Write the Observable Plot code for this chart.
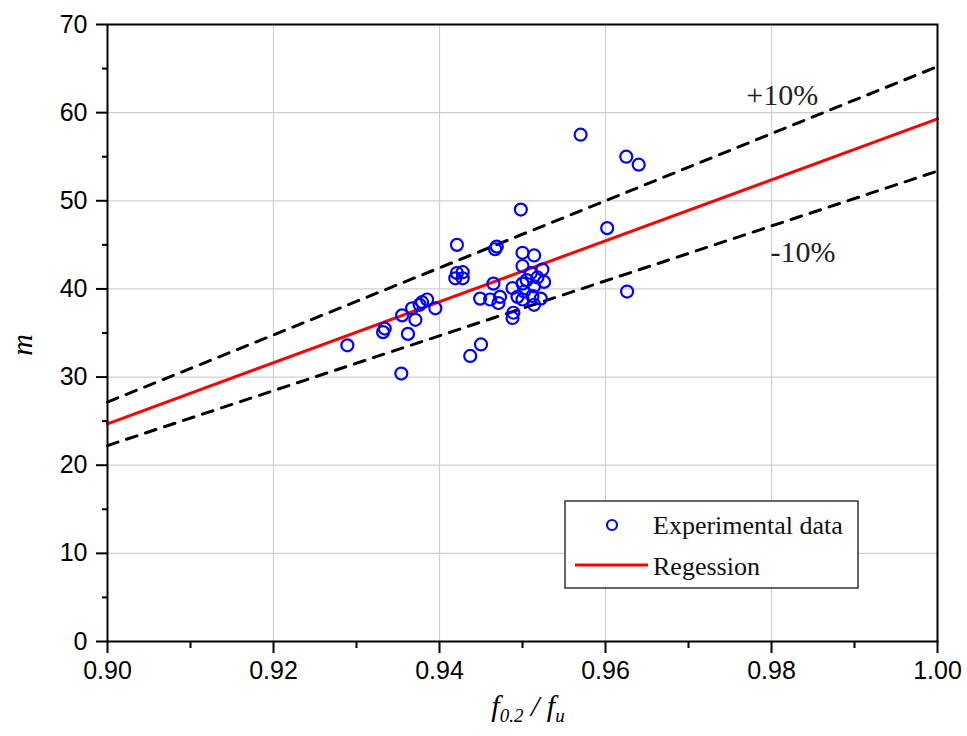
<!DOCTYPE html>
<html>
<head>
<meta charset="utf-8">
<script src="https://cdn.jsdelivr.net/npm/d3@7"></script>
<script src="https://cdn.jsdelivr.net/npm/@observablehq/plot@0.6"></script>
<style>
  html, body { margin: 0; padding: 0; background: #fff; }
  #chart svg { display: block; }
</style>
</head>
<body>
<div id="chart"></div>
<script>
// Measured yield ratio f0.2/fu and exponent m for each specimen
const ratio = [
  0.9289, 0.9332, 0.9334, 0.9354, 0.9355, 0.9362, 0.9367, 0.9371, 0.9376, 0.9379,
  0.9385, 0.9395, 0.9419, 0.9421, 0.9421, 0.9428, 0.9428, 0.9437, 0.9449, 0.9450,
  0.9461, 0.9465, 0.9467, 0.9469, 0.9471, 0.9473, 0.9488, 0.9489, 0.9488, 0.9494,
  0.9498, 0.9500, 0.9500, 0.9500, 0.9500, 0.9502, 0.9505, 0.9510, 0.9512, 0.9514,
  0.9514, 0.9514, 0.9518, 0.9522, 0.9524, 0.9526, 0.9570, 0.9602, 0.9625, 0.9626,
  0.9640
];
const mValue = [
  33.6, 35.1, 35.5, 30.4, 37.0, 34.9, 37.8, 36.5, 38.2, 38.5,
  38.8, 37.8, 41.2, 41.8, 45.0, 41.9, 41.2, 32.4, 38.9, 33.7,
  38.8, 40.6, 44.5, 44.8, 38.4, 39.1, 36.7, 37.3, 40.1, 39.1,
  49.0, 44.1, 42.6, 40.6, 38.8, 39.7, 41.0, 41.8, 39.2, 43.8,
  40.3, 38.2, 41.3, 38.9, 42.2, 40.8, 57.5, 46.9, 55.0, 39.7,
  54.1
];

// Regression line end points and the ±10% band factors
const fitRatio = [0.90, 1.00];
const fitM = [24.7, 59.3];
const bandFactor = [1.1, 0.9];
const bandLabel = ["+10%", "-10%"];

// Axis ticks
const xTicks = [0.90, 0.92, 0.94, 0.96, 0.98, 1.00];
const xMinor = [0.91, 0.93, 0.95, 0.97, 0.99];
const yTicks = [0, 10, 20, 30, 40, 50, 60, 70];
const yMinor = [5, 15, 25, 35, 45, 55, 65];

const points = ratio.map((r, i) => ({r, m: mValue[i]}));
const fit = fitRatio.map((r, i) => ({r, m: fitM[i]}));
const bands = bandFactor.flatMap((k, j) =>
  fit.map(d => ({r: d.r, m: d.m * k, band: bandLabel[j]})));
const bandText = [
  {r: 0.9813, m: 62.0, text: bandLabel[0]},
  {r: 0.9838, m: 44.1, text: bandLabel[1]}
];

const chart = Plot.plot({
  width: 967,
  height: 736,
  marginLeft: 107,
  marginRight: 30,
  marginTop: 24,
  marginBottom: 95,
  style: {fontFamily: "'Liberation Sans', Arial, sans-serif", fontSize: "25px", color: "#000", background: "#fff"},
  x: {domain: [0.90, 1.00]},
  y: {domain: [0, 70]},
  marks: [
    Plot.gridX(xTicks.slice(1, -1), {stroke: "#cfcfcf", strokeOpacity: 1, strokeWidth: 1.2}),
    Plot.gridY(yTicks.slice(1, -1), {stroke: "#cfcfcf", strokeOpacity: 1, strokeWidth: 1.2}),
    Plot.line(bands, {x: "r", y: "m", z: "band", stroke: "#000", strokeWidth: 3, strokeDasharray: "11,9"}),
    Plot.line(fit, {x: "r", y: "m", stroke: "#ff0000", strokeWidth: 3}),
    Plot.dot(points, {x: "r", y: "m", r: 6, stroke: "#0000ff", strokeWidth: 2.2, fill: "none"}),
    Plot.text(bandText, {x: "r", y: "m", text: "text", fontFamily: "'Liberation Serif', 'Times New Roman', serif", fontSize: 30, fill: "#222"}),
    Plot.axisX(xTicks, {tickSize: 12, tickPadding: 8, strokeWidth: 2, tickFormat: d3.format(".2f"), label: null}),
    Plot.axisX(xMinor, {tickSize: 7, strokeWidth: 2, text: null, label: null}),
    Plot.axisY(yTicks, {tickSize: 11, tickPadding: 9, strokeWidth: 2, label: null}),
    Plot.axisY(yMinor, {tickSize: 5, strokeWidth: 2, text: null, label: null}),
    Plot.frame({stroke: "#000", strokeWidth: 2})
  ]
});

document.getElementById("chart").append(chart);

// Axis titles with sub-scripts and the legend box
const svg = d3.select(chart);
const serif = "'Liberation Serif', 'Times New Roman', serif";

const xt = svg.append("text")
  .attr("x", 528).attr("y", 716)
  .attr("text-anchor", "middle")
  .attr("font-family", serif).attr("font-style", "italic")
  .attr("font-size", 30).attr("fill", "#000");
xt.append("tspan").text("f");
xt.append("tspan").attr("font-size", 19).attr("dy", 6).text("0.2");
xt.append("tspan").attr("dy", -6).attr("font-size", 30).text(" / ");
xt.append("tspan").text("f");
xt.append("tspan").attr("font-size", 19).attr("dy", 6).text("u");

svg.append("text")
  .attr("transform", "translate(32,345) rotate(-90)")
  .attr("text-anchor", "middle")
  .attr("font-family", serif).attr("font-style", "italic")
  .attr("font-size", 30).attr("fill", "#000")
  .text("m");

const lg = svg.append("g")
  .attr("font-family", serif).attr("font-size", 26)
  .attr("text-anchor", "start").attr("fill", "#111");
lg.append("rect").attr("x", 565).attr("y", 501).attr("width", 293).attr("height", 87)
  .attr("fill", "#fff").attr("stroke", "#333").attr("stroke-width", 1.5);
lg.append("circle").attr("cx", 612).attr("cy", 525).attr("r", 5)
  .attr("fill", "none").attr("stroke", "#0000ff").attr("stroke-width", 2.2);
lg.append("text").attr("x", 653).attr("y", 534).text("Experimental data");
lg.append("line").attr("x1", 575).attr("x2", 648).attr("y1", 565).attr("y2", 565)
  .attr("stroke", "#ff0000").attr("stroke-width", 3);
lg.append("text").attr("x", 653).attr("y", 575).text("Regession");
</script>
</body>
</html>
